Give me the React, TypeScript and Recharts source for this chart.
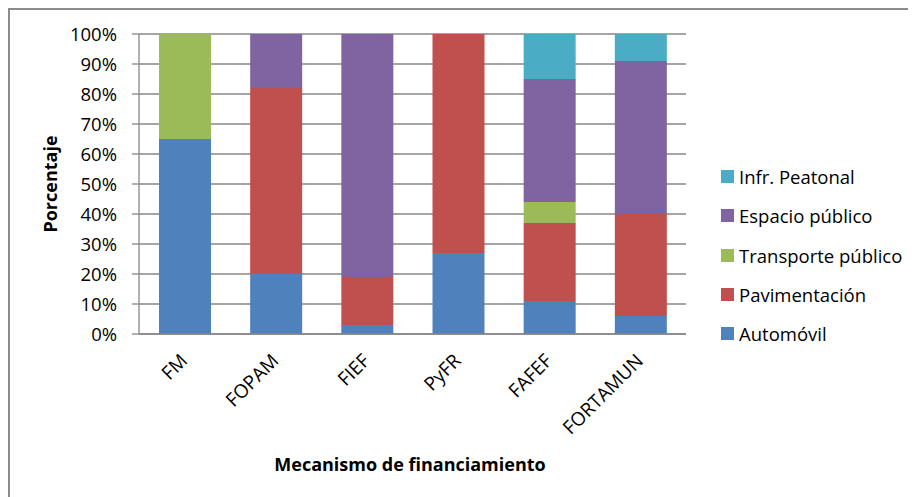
import React from 'react';
import { BarChart, Bar, XAxis, YAxis, CartesianGrid, Label } from 'recharts';

const categories = ['FM', 'FOPAM', 'FIEF', 'PyFR', 'FAFEF', 'FORTAMUN'];
const automovil = [65, 20, 3, 27, 11, 6];
const pavimentacion = [0, 62, 16, 73, 26, 34];
const transporte = [35, 0, 0, 0, 7, 0];
const espacio = [0, 18, 81, 0, 41, 51];
const peatonal = [0, 0, 0, 0, 15, 9];
const yTicks = [0, 10, 20, 30, 40, 50, 60, 70, 80, 90, 100];

const series = [
  { key: 'automovil', name: 'Automóvil', color: '#4F81BD', values: automovil },
  { key: 'pavimentacion', name: 'Pavimentación', color: '#C0504D', values: pavimentacion },
  { key: 'transporte', name: 'Transporte público', color: '#9BBB59', values: transporte },
  { key: 'espacio', name: 'Espacio público', color: '#8064A2', values: espacio },
  { key: 'peatonal', name: 'Infr. Peatonal', color: '#4BACC6', values: peatonal },
];

const data = categories.map((c, i) => {
  const row: Record<string, any> = { name: c };
  series.forEach((s) => (row[s.key] = s.values[i]));
  return row;
});

const FONT = '"Open Sans", "Noto Sans", sans-serif';

const XTick = (props: any) => {
  const { x, y, payload } = props;
  const ax = x + 4;
  const ay = y + 20;
  return (
    <text
      x={ax}
      y={ay}
      transform={`rotate(-45 ${ax} ${ay})`}
      textAnchor="end"
      fontFamily={FONT}
      fontSize={19}
      fill="#000"
    >
      {payload.value}
    </text>
  );
};

export default function App() {
  return (
    <div
      style={{
        position: 'relative',
        width: 908,
        height: 489,
        borderTop: '2px solid #8c8c8c',
        borderLeft: '2px solid #8c8c8c',
        boxSizing: 'border-box',
        background: '#fff',
      }}
    >
      <BarChart
        width={906}
        height={487}
        data={data}
        margin={{ top: 24, right: 230, bottom: 0, left: 0 }}
      >
        <CartesianGrid vertical={false} stroke="#878787" strokeWidth={1.3} />
        <XAxis
          dataKey="name"
          height={163}
          interval={0}
          tickLine={false}
          axisLine={{ stroke: '#878787', strokeWidth: 1.3 }}
          tick={<XTick />}
        >
          <Label
            content={() => (
              <text
                x={400}
                y={461}
                textAnchor="middle"
                fontFamily={FONT}
                fontWeight="bold"
                fontSize={18}
                fill="#000"
              >
                Mecanismo de financiamiento
              </text>
            )}
          />
        </XAxis>
        <YAxis
          width={129}
          domain={[0, 100]}
          ticks={yTicks}
          interval={0}
          tickFormatter={(v: number) => `${v}%`}
          tickSize={7}
          tickMargin={15}
          tickLine={{ stroke: '#878787', strokeWidth: 1.3 }}
          axisLine={{ stroke: '#878787', strokeWidth: 1.3 }}
          tick={{ fontFamily: FONT, fontSize: 18.5, fill: '#000' }}
        >
          <Label
            content={() => (
              <text
                x={47}
                y={174}
                transform="rotate(-90 47 174)"
                textAnchor="middle"
                fontFamily={FONT}
                fontWeight="bold"
                fontSize={18}
                fill="#000"
              >
                Porcentaje
              </text>
            )}
          />
        </YAxis>
        {series.map((s) => (
          <Bar
            key={s.key}
            dataKey={s.key}
            name={s.name}
            stackId="a"
            fill={s.color}
            barSize={52}
            isAnimationActive={false}
          />
        ))}
      </BarChart>
      <div
        style={{
          position: 'absolute',
          left: 711,
          top: 147,
          fontFamily: FONT,
          fontSize: 18.5,
          color: '#000',
        }}
      >
        {[...series].reverse().map((s) => (
          <div
            key={s.key}
            style={{ display: 'flex', alignItems: 'center', height: 39.3, whiteSpace: 'nowrap' }}
          >
            <span
              style={{ display: 'inline-block', width: 13, height: 13, background: s.color, marginRight: 5 }}
            />
            <span>{s.name}</span>
          </div>
        ))}
      </div>
    </div>
  );
}
